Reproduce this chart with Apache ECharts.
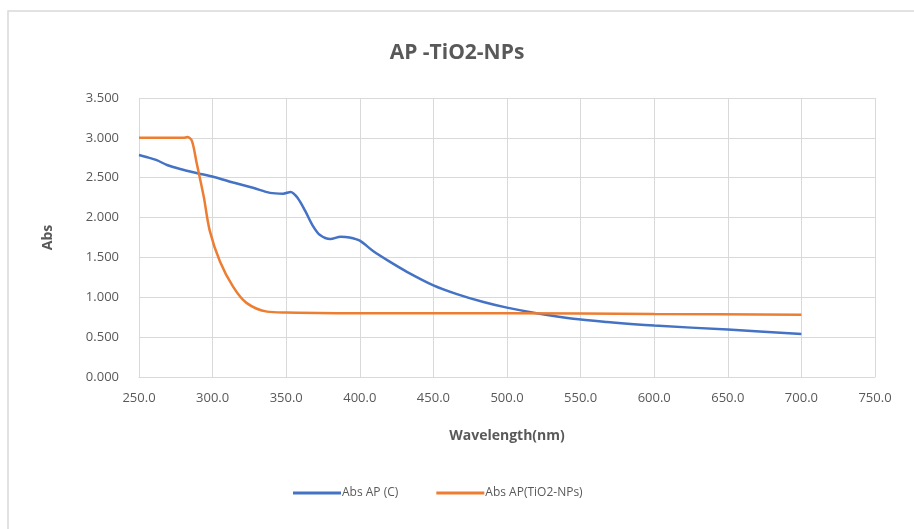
<!DOCTYPE html>
<html>
<head>
<meta charset="utf-8">
<script src="https://cdn.jsdelivr.net/npm/echarts@6/dist/echarts.min.js"></script>
<style>
html,body{margin:0;padding:0;background:#fff;}
#chart{width:914px;height:529px;}
</style>
</head>
<body>
<div id="chart"></div>
<script>
var titleText = 'AP -TiO2-NPs';
var xName = 'Wavelength(nm)';
var yName = 'Abs';
var seriesNames = ['Abs AP (C)', 'Abs AP(TiO2-NPs)'];

var wlC = [250, 255, 262, 269, 278, 289, 301, 314, 328, 339, 348, 353, 358, 363, 368, 373, 380, 387, 393, 400, 409, 420, 432, 450, 466, 484, 500, 520, 545, 568, 600, 650, 700];
var absC = [2.785, 2.76, 2.72, 2.66, 2.61, 2.56, 2.51, 2.44, 2.37, 2.31, 2.30, 2.32, 2.24, 2.08, 1.90, 1.78, 1.73, 1.76, 1.75, 1.71, 1.58, 1.45, 1.32, 1.15, 1.04, 0.94, 0.87, 0.80, 0.73, 0.69, 0.645, 0.595, 0.54];

var wlT = [250, 260, 270, 280, 283, 286, 289, 294, 298, 305, 314, 323, 337, 350, 400, 500, 600, 700];
var absT = [3.0, 3.0, 3.0, 3.0, 3.01, 2.96, 2.70, 2.26, 1.84, 1.45, 1.13, 0.93, 0.82, 0.81, 0.80, 0.80, 0.79, 0.78];

function pairs(xs, ys){ return xs.map(function(x,i){ return [x, ys[i]]; }); }

var font = 'Open Sans';
var chart = echarts.init(document.getElementById('chart'));
chart.setOption({
  animation: false,
  backgroundColor: '#fff',
  textStyle: {fontFamily: font},
  graphic: [{
    type: 'rect', shape: {x: 8, y: 11, width: 920, height: 530},
    style: {fill: 'none', stroke: '#d9d9d9', lineWidth: 1.5}, silent: true
  }],
  title: {
    text: titleText, left: 'center', top: 38,
    textStyle: {fontFamily: font, fontSize: 21, fontWeight: 'bold', color: '#595959'}
  },
  legend: {
    data: seriesNames, left: 288, top: 482, itemWidth: 48, itemHeight: 3, itemGap: 38,
    icon: 'rect',
    textStyle: {fontFamily: font, fontSize: 12, color: '#595959', padding: [0,0,0,-4]}
  },
  grid: {left: 139, right: 39, top: 98, bottom: 152},
  xAxis: {
    type: 'value', min: 250, max: 750, interval: 50,
    name: xName, nameLocation: 'middle', nameGap: 52,
    nameTextStyle: {fontFamily: font, fontSize: 14, fontWeight: 'bold', color: '#595959'},
    axisLine: {show: true, lineStyle: {color: '#d9d9d9'}},
    axisTick: {show: false},
    axisLabel: {fontFamily: font, fontSize: 13, color: '#595959', margin: 15,
      formatter: function(v){ return v.toFixed(1); }},
    splitLine: {show: true, lineStyle: {color: '#d9d9d9'}}
  },
  yAxis: {
    type: 'value', min: 0, max: 3.5, interval: 0.5,
    name: yName, nameLocation: 'middle', nameGap: 84, nameRotate: 90,
    nameTextStyle: {fontFamily: font, fontSize: 14, fontWeight: 'bold', color: '#595959'},
    axisLine: {show: false},
    axisTick: {show: false},
    axisLabel: {fontFamily: font, fontSize: 13, color: '#595959', margin: 20,
      formatter: function(v){ return v.toFixed(3); }},
    splitLine: {show: true, lineStyle: {color: '#d9d9d9'}}
  },
  series: [
    {name: seriesNames[0], type: 'line', data: pairs(wlC, absC), smooth: 0.3,
     showSymbol: false, color: '#4472C4', lineStyle: {width: 2.5, color: '#4472C4'}},
    {name: seriesNames[1], type: 'line', data: pairs(wlT, absT), smooth: 0.3,
     showSymbol: false, color: '#ED7D31', lineStyle: {width: 2.5, color: '#ED7D31'}}
  ]
});
</script>
</body>
</html>
